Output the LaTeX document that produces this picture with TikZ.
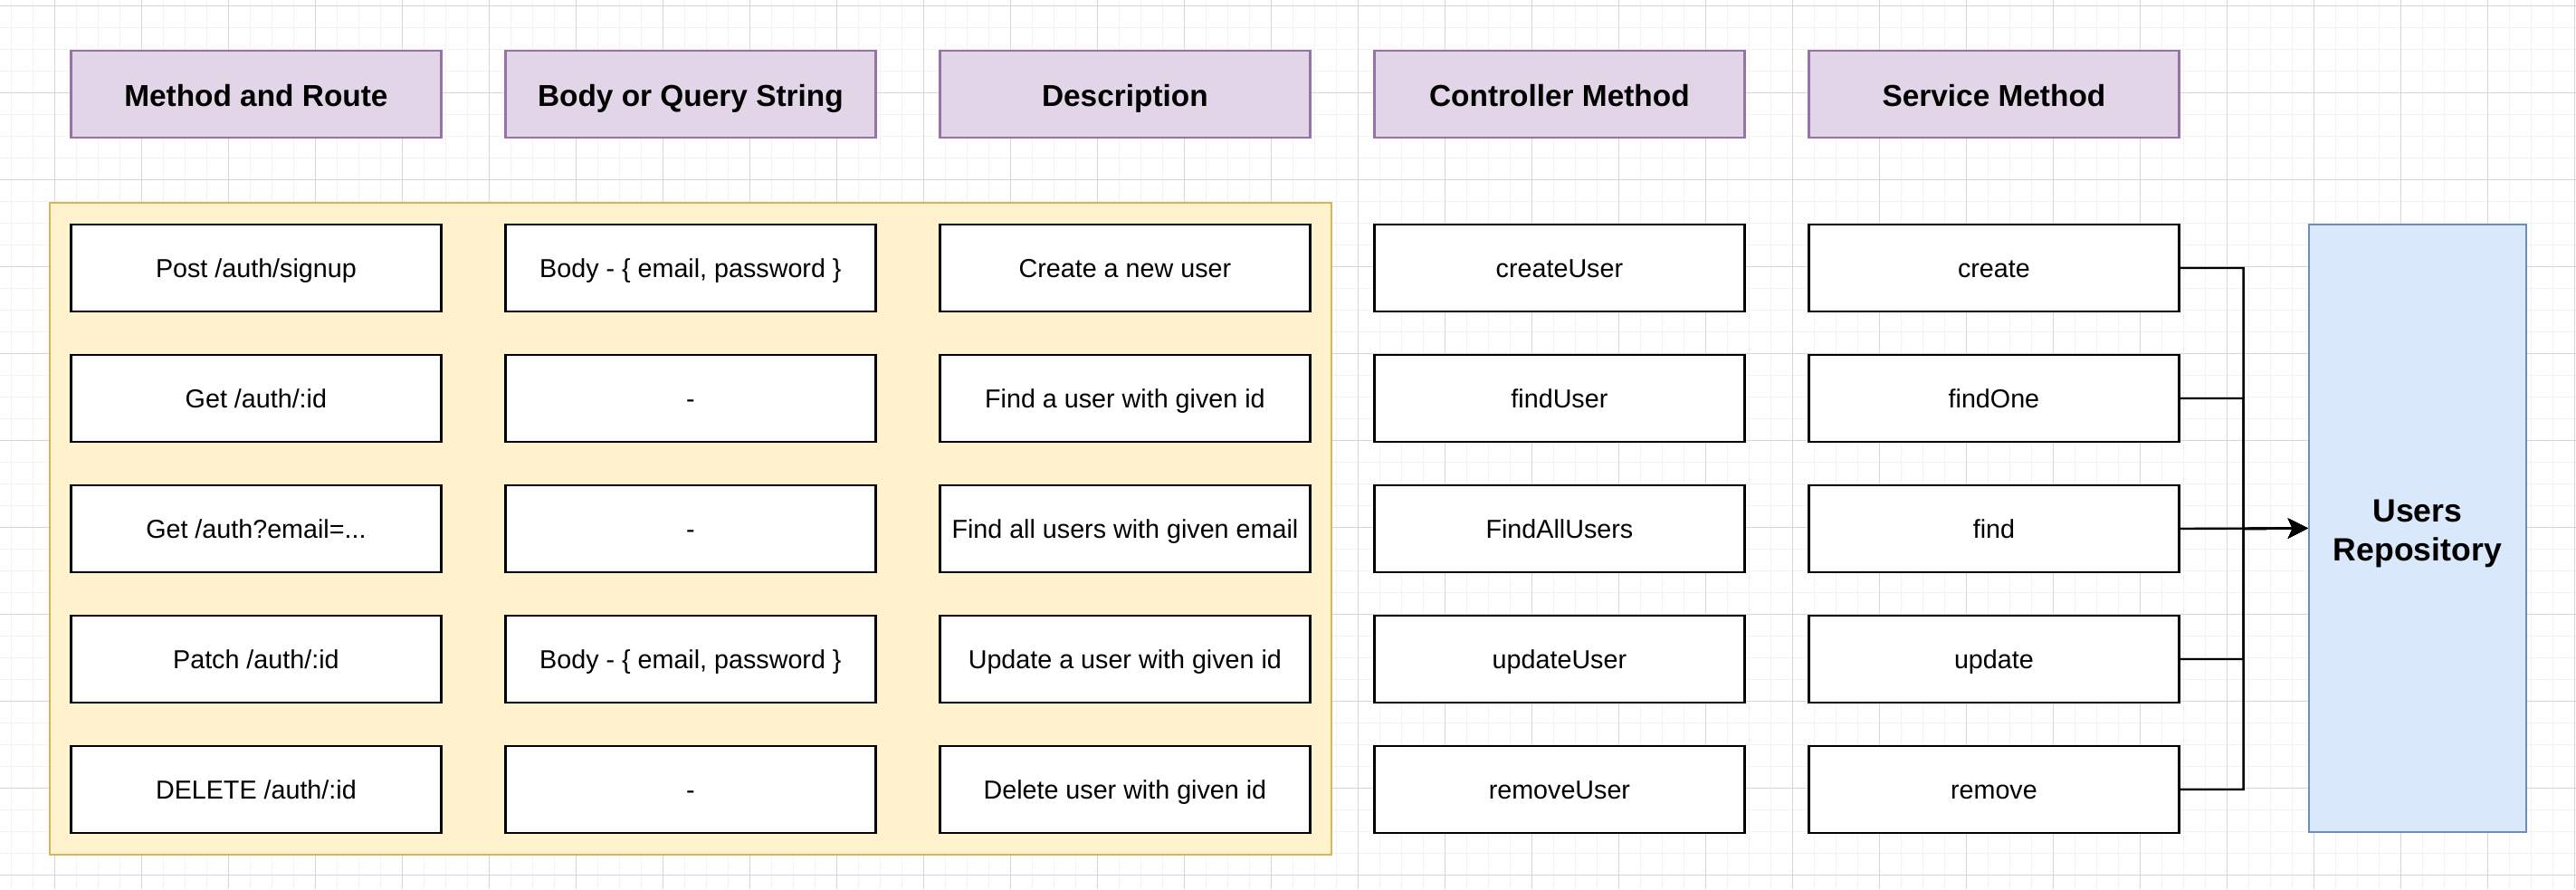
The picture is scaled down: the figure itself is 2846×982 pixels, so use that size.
\documentclass[tikz,border=0pt]{standalone}
\usepackage{fontspec}
\setmainfont{Liberation Sans}
\usetikzlibrary{arrows.meta}
\definecolor{headfill}{HTML}{E1D5E7}
\definecolor{headline}{HTML}{9673A6}
\definecolor{groupfill}{HTML}{FFF2CC}
\definecolor{groupline}{HTML}{D6B656}
\definecolor{repofill}{HTML}{DAE8FC}
\definecolor{repoline}{HTML}{6C8EBF}
\definecolor{minorgrid}{HTML}{F2F2F2}
\definecolor{majorgrid}{HTML}{D6D6D6}
\tikzset{
  head/.style={draw=headline, fill=headfill, line width=1.1pt, minimum width=204.5pt, minimum height=48pt, inner sep=0pt, text height=13.9pt, text depth=0pt, font=\fontsize{16.7}{20}\selectfont\bfseries},
  cell/.style={draw=black, fill=white, line width=1.4pt, minimum width=204.5pt, minimum height=48pt, inner sep=0pt, text height=10.3pt, text depth=0pt, font=\fontsize{14.35}{17}\selectfont},
  group/.style={draw=groupline, fill=groupfill, line width=1pt, minimum width=708pt, minimum height=360pt, inner sep=0pt},
  repo/.style={draw=repoline, fill=repofill, line width=1.1pt, minimum width=120pt, minimum height=335.6pt, inner sep=0pt, align=center, font=\fontsize{17.8}{21.6}\selectfont\bfseries},
  conn/.style={line width=1.2pt},
  connarrow/.style={conn, -{Stealth[length=11pt, width=11pt, inset=2.5pt]}}
}

\begin{document}
\begin{tikzpicture}[x=0.5pt, y=-0.5pt]
            \useasboundingbox (0,0) rectangle (2846,982);
            \fill[white] (0,0) rectangle (2846,982);

            %Grid
            \foreach \x in {12.5,36.5,...,2846} \draw[minorgrid, line width=0.5pt] (\x,0) -- (\x,982);
            \foreach \y in {6.3,30.3,...,982} \draw[minorgrid, line width=0.5pt] (0,\y) -- (2846,\y);
            \foreach \x in {60.5,156.5,...,2846} \draw[majorgrid, line width=0.5pt] (\x,0) -- (\x,982);
            \foreach \y in {6.3,102.3,...,982} \draw[majorgrid, line width=0.5pt] (0,\y) -- (2846,\y);

            %Headers
            \node[head] at (282.9,104) (hroute) {Method and Route};
            \node[head] at (762.9,104) (hbody) {Body or Query String};
            \node[head] at (1242.9,104) (hdesc) {Description};
            \node[head] at (1722.9,104) (hctrl) {Controller Method};
            \node[head] at (2202.9,104) (hsvc) {Service Method};

            %Group
            \node[group] at (762.7,584) (grp) {};

            %Routes
            \node[cell] at (282.9,296) (r1) {Post /auth/signup};
            \node[cell] at (282.9,440) (r2) {Get /auth/:id};
            \node[cell] at (282.9,584) (r3) {Get /auth?email=...};
            \node[cell] at (282.9,728) (r4) {Patch /auth/:id};
            \node[cell] at (282.9,872) (r5) {DELETE /auth/:id};

            %Bodies
            \node[cell] at (762.9,296) (b1) {Body - \{ email, password \}};
            \node[cell] at (762.9,440) (b2) {-};
            \node[cell] at (762.9,584) (b3) {-};
            \node[cell] at (762.9,728) (b4) {Body - \{ email, password \}};
            \node[cell] at (762.9,872) (b5) {-};

            %Descriptions
            \node[cell] at (1242.9,296) (d1) {Create a new user};
            \node[cell] at (1242.9,440) (d2) {Find a user with given id};
            \node[cell] at (1242.9,584) (d3) {Find all users with given email};
            \node[cell] at (1242.9,728) (d4) {Update a user with given id};
            \node[cell] at (1242.9,872) (d5) {Delete user with given id};

            %Controller methods
            \node[cell] at (1722.9,296) (c1) {createUser};
            \node[cell] at (1722.9,440) (c2) {findUser};
            \node[cell] at (1722.9,584) (c3) {FindAllUsers};
            \node[cell] at (1722.9,728) (c4) {updateUser};
            \node[cell] at (1722.9,872) (c5) {removeUser};

            %Service methods
            \node[cell] at (2202.9,296) (s1) {create};
            \node[cell] at (2202.9,440) (s2) {findOne};
            \node[cell] at (2202.9,584) (s3) {find};
            \node[cell] at (2202.9,728) (s4) {update};
            \node[cell] at (2202.9,872) (s5) {remove};

            %Repository
            \node[repo] at (2670.9,583.4) (repo) {\rule{0pt}{18pt}Users\\Repository};
            \coordinate (bus) at (2478.6,584);

            %Lines
            \draw[connarrow] (s1.east) -| (bus) -- (repo.west);
            \draw[connarrow] (s2.east) -| (bus) -- (repo.west);
            \draw[connarrow] (s3.east) -- (repo.west);
            \draw[connarrow] (s4.east) -| (bus) -- (repo.west);
            \draw[connarrow] (s5.east) -| (bus) -- (repo.west);
        \end{tikzpicture}
\end{document}
